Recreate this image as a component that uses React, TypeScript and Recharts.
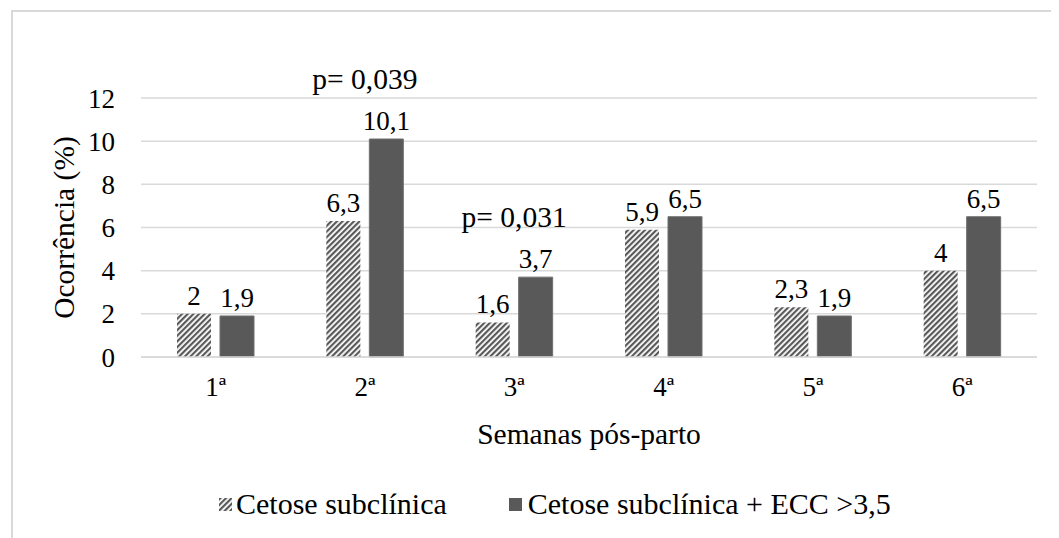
import React from 'react';
import { BarChart, Bar, XAxis, YAxis, CartesianGrid, LabelList } from 'recharts';

const weeks = ['1ª', '2ª', '3ª', '4ª', '5ª', '6ª'];
const cetose = [2, 6.3, 1.6, 5.9, 2.3, 4];
const cetoseEcc = [1.9, 10.1, 3.7, 6.5, 1.9, 6.5];
const pValues = ['', 'p= 0,039', 'p= 0,031', '', '', ''];
const yTicks = [0, 2, 4, 6, 8, 10, 12];

const seriesNames = ['Cetose subclínica', 'Cetose subclínica + ECC >3,5'];

const data = weeks.map((w, i) => ({ week: w, a: cetose[i], b: cetoseEcc[i], p: pValues[i] }));

const FONT = '"Liberation Serif", "Times New Roman", serif';
const FS = 27; // ticks and value labels
const FT = 29.5; // titles, p-values
const FL = 30; // legend
const DARK = '#595959';
const GRID = '#d9d9d9';

const fmt = (v: any) => String(v).replace('.', ',');

const PLabel = (props: any) => {
    const { x, y, value } = props;
    if (!value) return null;
    return (
        <text x={x - 4.5} y={y - 50} textAnchor="middle" fontSize={FT} fontFamily={FONT} fill="#000">
            {value}
        </text>
    );
};

const YTitle = (props: any) => {
    const { viewBox } = props;
    const cx = 51;
    const cy = viewBox.y + viewBox.height / 2;
    return (
        <text x={cx} y={cy} transform={`rotate(-90 ${cx} ${cy})`} textAnchor="middle" dominantBaseline="central" fontSize={FT} fontFamily={FONT} fill="#000">
            Ocorrência (%)
        </text>
    );
};

const XTitle = (props: any) => {
    const { viewBox } = props;
    return (
        <text x={viewBox.x + viewBox.width / 2} y={viewBox.y + 87} textAnchor="middle" fontSize={FT} fontFamily={FONT} fill="#000">
            Semanas pós-parto
        </text>
    );
};

const HatchDefs = ({ id }: { id: string }) => (
    <defs>
        <pattern id={id} patternUnits="userSpaceOnUse" width={4} height={4} patternTransform="rotate(45)">
            <rect x={0} y={0} width={4} height={4} fill="#fff" />
            <rect x={0} y={0} width={2.2} height={4} fill={DARK} />
        </pattern>
    </defs>
);

const Legend2 = () => (
    <div
        style={{
            position: 'absolute',
            top: 475,
            left: 206,
            display: 'flex',
            alignItems: 'center',
            fontSize: FL,
            fontFamily: FONT,
            color: '#000',
            whiteSpace: 'nowrap',
        }}
    >
        <svg width={13} height={13} style={{ marginRight: 4 }}>
            <HatchDefs id="hatchLegend" />
            <rect x={0} y={0} width={13} height={13} fill="url(#hatchLegend)" />
        </svg>
        <span style={{ marginRight: 62 }}>{seriesNames[0]}</span>
        <svg width={13} height={13} style={{ marginRight: 6 }}>
            <rect x={0} y={0} width={13} height={13} fill={DARK} />
        </svg>
        <span>{seriesNames[1]}</span>
    </div>
);

const tickStyle = { fill: '#000', fontSize: FS, fontFamily: FONT };

export default function App() {
    return (
        <div
            style={{
                marginLeft: 3,
                marginTop: 2,
                width: 1060,
                height: 540,
                border: `2px solid ${GRID}`,
                boxSizing: 'border-box',
                position: 'relative',
                fontFamily: FONT,
                background: '#fff',
            }}
        >
            <BarChart
                width={1044}
                height={526}
                data={data}
                margin={{ top: 86, right: 20, left: 0, bottom: 71 }}
                barSize={34}
                barGap={9}
                style={{ fontFamily: FONT }}
            >
                <HatchDefs id="hatch" />
                <CartesianGrid vertical={false} stroke={GRID} strokeWidth={1.5} />
                <XAxis
                    dataKey="week"
                    height={110}
                    axisLine={{ stroke: GRID, strokeWidth: 1.5 }}
                    tickLine={false}
                    tickSize={0}
                    tickMargin={20}
                    tick={tickStyle}
                    label={{ content: <XTitle /> }}
                />
                <YAxis
                    width={128}
                    domain={[0, 12]}
                    ticks={yTicks}
                    axisLine={false}
                    tickLine={false}
                    tickSize={0}
                    tickMargin={26}
                    tick={tickStyle}
                    label={{ content: <YTitle /> }}
                />
                <Bar dataKey="a" fill="url(#hatch)" isAnimationActive={false}>
                    <LabelList dataKey="a" position="top" offset={9} formatter={fmt} style={tickStyle} />
                </Bar>
                <Bar dataKey="b" fill={DARK} stroke="#6f6f6f" strokeWidth={1} isAnimationActive={false}>
                    <LabelList dataKey="b" position="top" offset={9} formatter={fmt} style={tickStyle} />
                    <LabelList dataKey="p" content={<PLabel />} />
                </Bar>
            </BarChart>
            <Legend2 />
        </div>
    );
}
